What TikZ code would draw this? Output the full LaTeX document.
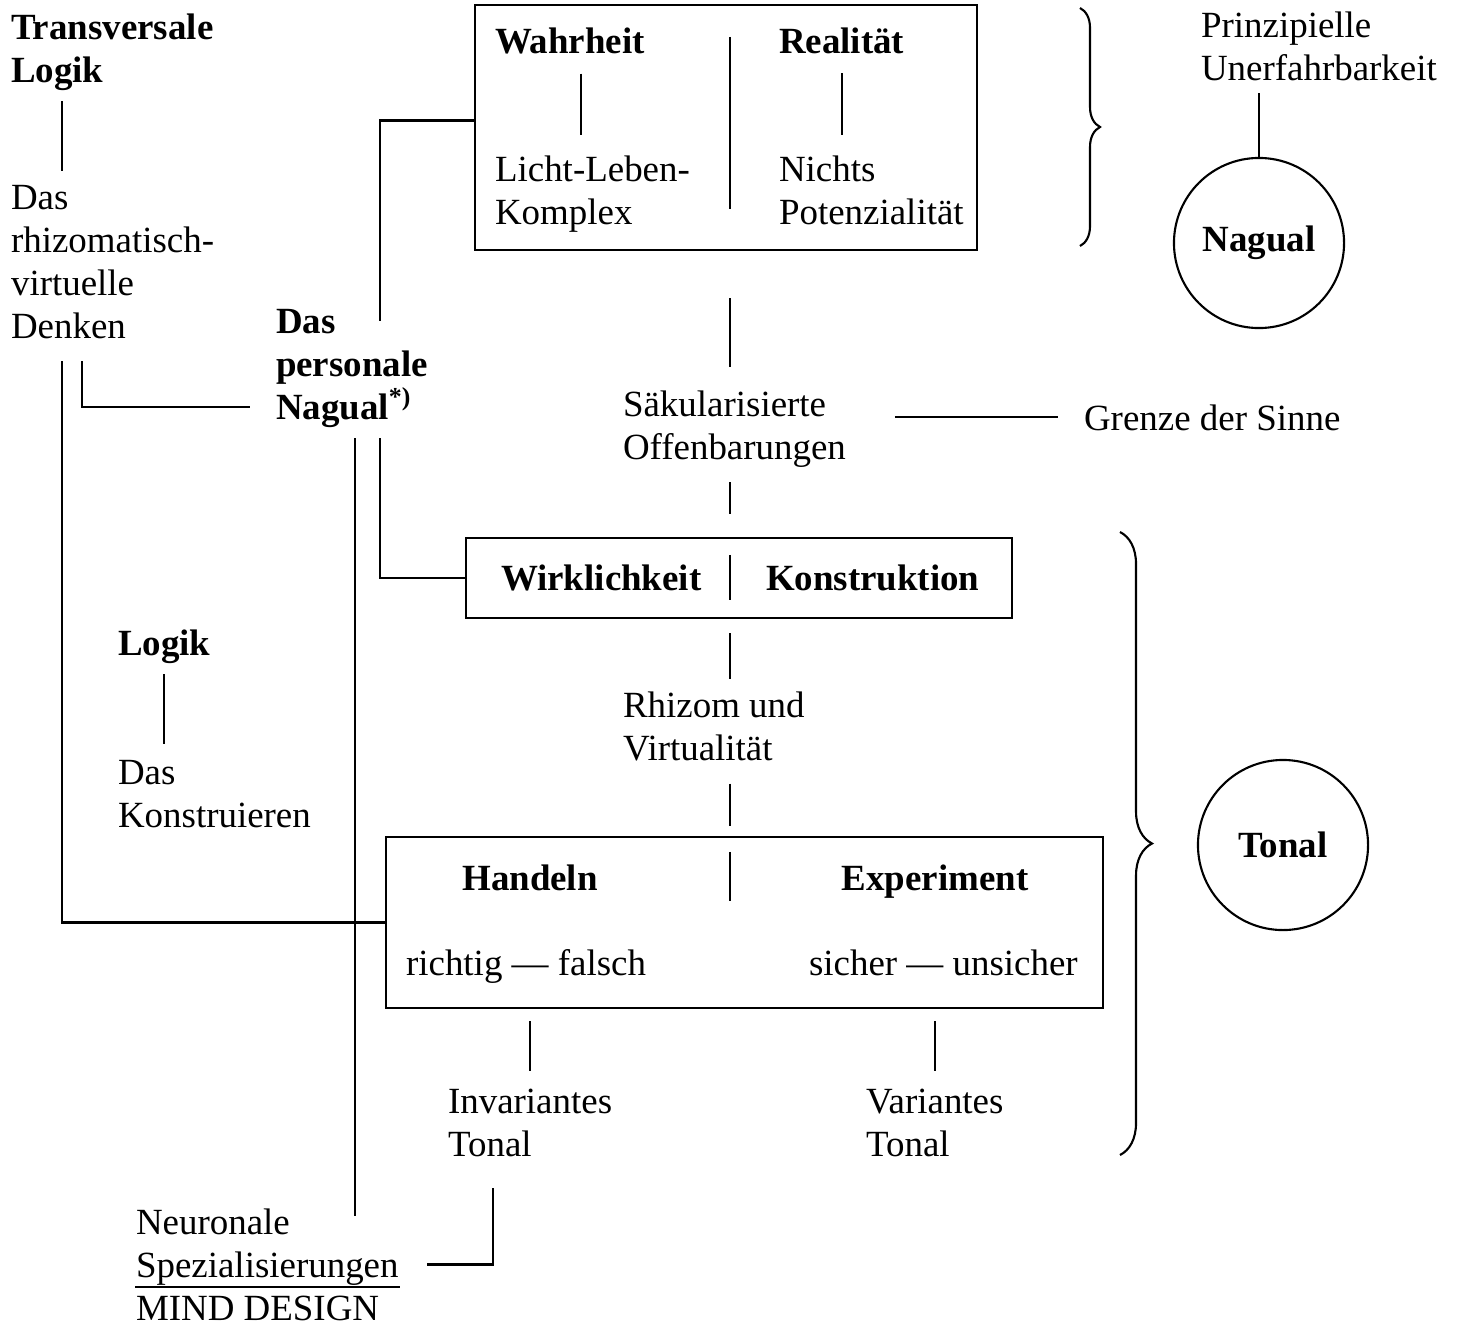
\documentclass[tikz,border=0pt]{standalone}
\usepackage{fontspec}
\setmainfont{Liberation Serif}
\usetikzlibrary{positioning,calc,decorations.pathreplacing}

\begin{document}
\begin{tikzpicture}[x=0.01cm,y=-0.01cm,line width=0.6pt,
  every node/.style={font=\fontsize{10.5}{12.2}\selectfont},
  txt/.style={inner sep=0pt,anchor=base west,align=left},
  fett/.style={txt,font=\fontsize{10.5}{12.2}\selectfont\bfseries},
  kasten/.style={draw,inner sep=0pt},
  kreis/.style={draw,circle,minimum size=1.7cm,inner sep=0pt,font=\fontsize{10.5}{12.2}\selectfont\bfseries},
  klammer/.style={decorate,decoration={brace,amplitude=#1}}]
\useasboundingbox (0,0) rectangle (1461,1324);

\node[fett] (translogik) at (10,82) {Transversale\\Logik};
\node[txt] (denken) at (10,338) {Das\\rhizomatisch-\\virtuelle\\Denken};
\node[fett] (personale) at (275,419) {Das\\personale\\Nagual\textsuperscript{*)}};
\node[fett] (logik) at (117,655) {Logik};
\node[txt] (konstruieren) at (117,827) {Das\\Konstruieren};
\node[txt] (neuronale) at (135,1320) {Neuronale\\Spezialisierungen\\MIND DESIGN};

% obere Ebene
\node[kasten,minimum width=5.02cm,minimum height=2.45cm] (topbox) at (726,127.5) {};
\node[fett] (wahr) at (494,53) {Wahrheit};
\node[fett] (real) at (778,53) {Realität};
\node[txt] (licht) at (494,224) {Licht-Leben-\\Komplex};
\node[txt] (nichts) at (778,224) {Nichts\\Potenzialität};
\node[txt] (prinz) at (1200,80) {Prinzipielle\\Unerfahrbarkeit};
\node[kreis] (nagual) at (1259,243) {Nagual};

\node[txt] (saek) at (622,459) {Säkularisierte\\Offenbarungen};
\node[txt] (grenze) at (1083,430) {Grenze der Sinne};

% untere Ebene
\node[kasten,minimum width=5.46cm,minimum height=0.8cm] (wbox) at (739,578) {};
\node[fett] (wirk) at (500,590) {Wirklichkeit};
\node[fett] (konstr) at (765,590) {Konstruktion};
\node[txt] (rhizom) at (622,760) {Rhizom und\\Virtualität};
\node[kasten,minimum width=7.17cm,minimum height=1.71cm] (tbox) at (744.5,922.5) {};
\node[fett,anchor=base] (handeln) at (530,890) {Handeln};
\node[fett,anchor=base] (experiment) at (935,890) {Experiment};
\node[txt] (richtig) at (405,975) {richtig — falsch};
\node[txt] (sicher) at (808,975) {sicher — unsicher};
\node[txt] (invar) at (447,1156) {Invariantes\\Tonal};
\node[txt] (var) at (865,1156) {Variantes\\Tonal};
\node[kreis] (tonal) at (1283,845) {Tonal};

\coordinate (achse) at (730,0);
\coordinate (pcut) at ([xshift=.8cm,yshift=-.1cm]personale.south west);

\draw[shorten <=.1cm,shorten >=.13cm] ([xshift=.52cm]translogik.south west) -- ([xshift=.52cm]denken.north west);
\draw ([xshift=.72cm,yshift=-.22cm]denken.south west) |- ([xshift=-.25cm,yshift=.21cm]personale.south west);
\draw ([xshift=.52cm,yshift=-.22cm]denken.south west) |- (tbox.west);
\draw ([yshift=.07cm]topbox.west) -| ([xshift=1.05cm,yshift=-.13cm]personale.north west);
\draw ([xshift=1.05cm,yshift=-.1cm]personale.south west) |- (wbox.west);
\draw[shorten >=-.08cm] (pcut) -- (pcut |- neuronale.north);
\draw[shorten <=.31cm,shorten >=.27cm] ([xshift=.46cm]invar.south west) |- (neuronale.east);
\draw ([yshift=.34cm]neuronale.south west) -- ([yshift=.34cm]neuronale.south east);
\draw[shorten <=.1cm,shorten >=.15cm] (logik.south) -- (logik.south |- konstruieren.north);

\draw[shorten <=.12cm] (prinz.south -| nagual.north) -- (nagual.north);
\draw[shorten <=.19cm,shorten >=.19cm] ([xshift=.87cm]wahr.south west) -- ([xshift=.87cm]licht.north west);
\draw[shorten <=.19cm,shorten >=.19cm] (real.south) -- (real.south |- nichts.north);
\draw[shorten <=.33cm,shorten >=.42cm] (topbox.north -| achse) -- (topbox.south -| achse);
\draw[shorten <=.47cm,shorten >=.22cm] (topbox.south -| achse) -- (saek.north -| achse);
\draw[shorten <=.14cm,shorten >=.23cm] (saek.south -| achse) -- (wbox.north -| achse);
\draw[shorten <=.48cm,shorten >=.25cm] (saek.east |- grenze.west) -- (grenze.west);
\draw[shorten <=.18cm,shorten >=.19cm] (wbox.north -| achse) -- (wbox.south -| achse);
\draw[shorten <=.14cm,shorten >=.11cm] (wbox.south -| achse) -- (rhizom.north -| achse);
\draw[shorten <=.22cm,shorten >=.10cm] (rhizom.south -| achse) -- (tbox.north -| achse);
\draw[shorten <=.16cm,shorten >=1.08cm] (tbox.north -| achse) -- (tbox.south -| achse);
\draw[shorten <=.12cm,shorten >=.17cm] (tbox.south -| handeln.south) -- (invar.north -| handeln.south);
\draw[shorten <=.12cm,shorten >=.17cm] (tbox.south -| experiment.south) -- (var.north -| experiment.south);

\draw[klammer=.2cm] (1080,8) -- (1080,246);
\draw[klammer=.32cm] (1120,532) -- (1120,1155);
\end{tikzpicture}
\end{document}
